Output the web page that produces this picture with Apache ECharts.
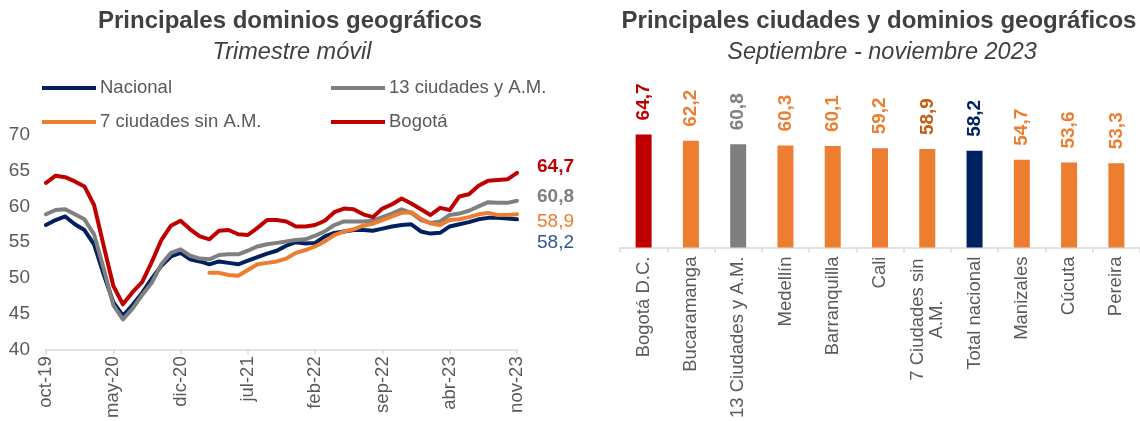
<!DOCTYPE html>
<html>
<head>
<meta charset="utf-8">
<script src="https://cdn.jsdelivr.net/npm/echarts@6/dist/echarts.min.js"></script>
<style>
html,body{margin:0;padding:0;background:#fff;}
#chart{width:1140px;height:421px;}
</style>
</head>
<body>
<div id="chart"></div>
<script>
// ---- Data ----
const months = ['oct-19','nov-19','dic-19','ene-20','feb-20','mar-20','abr-20','may-20','jun-20','jul-20','ago-20','sep-20','oct-20','nov-20','dic-20','ene-21','feb-21','mar-21','abr-21','may-21','jun-21','jul-21','ago-21','sep-21','oct-21','nov-21','dic-21','ene-22','feb-22','mar-22','abr-22','may-22','jun-22','jul-22','ago-22','sep-22','oct-22','nov-22','dic-22','ene-23','feb-23','mar-23','abr-23','may-23','jun-23','jul-23','ago-23','sep-23','oct-23','nov-23'];
const nacional = [57.4,58.1,58.6,57.5,56.7,54.7,50.5,46.6,44.7,46.2,47.9,49.9,51.7,53.0,53.5,52.6,52.3,51.9,52.3,52.1,51.9,52.4,52.9,53.4,53.8,54.5,55.0,54.8,54.9,55.8,56.3,56.5,56.7,56.7,56.6,56.9,57.2,57.4,57.5,56.5,56.2,56.3,57.2,57.5,57.8,58.2,58.4,58.4,58.3,58.2];
const ciudades13 = [58.9,59.5,59.6,58.9,58.2,56.1,51.3,46.2,44.2,45.7,47.6,49.3,51.9,53.5,54.0,53.1,52.7,52.6,53.2,53.3,53.3,53.8,54.4,54.7,54.9,55.1,55.3,55.4,55.9,56.5,57.4,57.9,57.9,57.9,58.0,58.5,59.0,59.6,59.1,58.1,57.7,57.9,58.8,59.0,59.4,60.0,60.6,60.5,60.5,60.8];
const ciudades7 = [null,null,null,null,null,null,null,null,null,null,null,null,null,null,null,null,null,50.7,50.7,50.4,50.3,51.1,51.9,52.1,52.3,52.7,53.5,53.9,54.4,55.1,56.0,56.5,56.8,57.3,57.6,58.1,58.6,59.1,59.2,58.3,57.6,57.4,58.1,58.2,58.5,58.9,59.1,58.8,58.8,58.9];
const bogota = [63.3,64.3,64.1,63.5,62.8,60.2,54.5,48.9,46.3,48.0,49.4,52.2,55.3,57.3,58.0,56.8,55.8,55.4,56.6,56.7,56.1,56.0,57.0,58.1,58.1,57.9,57.2,57.2,57.4,58.0,59.2,59.7,59.6,58.9,58.5,59.7,60.3,61.1,60.4,59.6,58.8,59.8,59.5,61.4,61.7,62.9,63.6,63.7,63.8,64.7];
const lineNames = ['Nacional','13 ciudades y A.M.','7 ciudades sin A.M.','Bogotá'];

const barCategories = ['Bogotá D.C.','Bucaramanga','13 Ciudades y A.M.','Medellín','Barranquilla','Cali','7 Ciudades sin\nA.M.','Total nacional','Manizales','Cúcuta','Pereira'];
const barValues = [64.7,62.2,60.8,60.3,60.1,59.2,58.9,58.2,54.7,53.6,53.3];

// ---- Styles ----
const FONT = '"Liberation Sans", Arial, sans-serif';
const TXT = '#595959';
const lineColors = ['#002060','#7F7F7F','#ED7D31','#C00000'];
const endLabelColors = ['#2F5597','#7F7F7F','#ED7D31','#C00000'];
const endLabelBold = [false,true,false,true];
const endLabelDy = [23,-4,7,-6];
const barColors = ['#C00000','#ED7D31','#7F7F7F','#ED7D31','#ED7D31','#ED7D31','#ED7D31','#002060','#ED7D31','#ED7D31','#ED7D31'];
const barLabelColors = ['#C00000','#ED7D31','#7F7F7F','#ED7D31','#ED7D31','#ED7D31','#C55A11','#002060','#ED7D31','#ED7D31','#ED7D31'];
const fmt = v => v.toFixed(1).replace('.', ',');

const chart = echarts.init(document.getElementById('chart'), null, {renderer:'canvas'});

const lineData = [nacional, ciudades13, ciudades7, bogota];
const lineSeries = lineData.map((d, k) => ({
  name: lineNames[k], type: 'line', xAxisIndex: 0, yAxisIndex: 0,
  data: d, showSymbol: false, symbol: 'none', connectNulls: false,
  lineStyle: {color: lineColors[k], width: 4, cap: 'round', join: 'round'},
  itemStyle: {color: lineColors[k]},
  endLabel: {
    show: true, distance: 20, offset: [0, endLabelDy[k]],
    formatter: p => fmt(p.value),
    color: endLabelColors[k], fontSize: 19, fontFamily: FONT,
    fontWeight: endLabelBold[k] ? 'bold' : 'normal'
  },
  emphasis: {disabled: true}, z: 2 + k
}));

const barCatData = barCategories.map((c, i) => {
  if (c.indexOf('\n') >= 0) {
    return {value: c, textStyle: {align: 'center', padding: [0, 126, 0, 0]}};
  }
  return c;
});

const option = {
  animation: false,
  textStyle: {fontFamily: FONT},
  title: [
    {text: 'Principales dominios geográficos', left: 290, top: 9, textAlign: 'center', padding: 0,
     textStyle: {fontSize: 24, fontWeight: 'bold', color: '#404040', fontFamily: FONT, lineHeight: 24}},
    {text: 'Trimestre móvil', left: 292, top: 40, textAlign: 'center', padding: 0,
     textStyle: {fontSize: 23.5, fontWeight: 'normal', fontStyle: 'italic', color: '#404040', fontFamily: FONT, lineHeight: 24}},
    {text: 'Principales ciudades y dominios geográficos', left: 879, top: 9, textAlign: 'center', padding: 0,
     textStyle: {fontSize: 24, fontWeight: 'bold', color: '#404040', fontFamily: FONT, lineHeight: 24}},
    {text: 'Septiembre - noviembre 2023', left: 882, top: 40, textAlign: 'center', padding: 0,
     textStyle: {fontSize: 23.5, fontWeight: 'normal', fontStyle: 'italic', color: '#404040', fontFamily: FONT, lineHeight: 24}}
  ],
  legend: [
    {data: [lineNames[0], lineNames[2]], orient: 'vertical', left: 42, top: 77, padding: 0,
     itemWidth: 54, itemHeight: 4, itemGap: 12, icon: 'rect', selectedMode: false,
     textStyle: {fontSize: 18.5, color: TXT, fontFamily: FONT, lineHeight: 22, padding: [0,0,0,-1]}},
    {data: [lineNames[1], lineNames[3]], orient: 'vertical', left: 331, top: 77, padding: 0,
     itemWidth: 54, itemHeight: 4, itemGap: 12, icon: 'rect', selectedMode: false,
     textStyle: {fontSize: 18.5, color: TXT, fontFamily: FONT, lineHeight: 22, padding: [0,0,0,-1]}}
  ],
  grid: [
    {left: 46, top: 135, width: 471, bottom: 69},
    {left: 620, top: 121, width: 523, bottom: 172}
  ],
  xAxis: [
    {type: 'category', gridIndex: 0, data: months, boundaryGap: false,
     axisLine: {lineStyle: {color: '#D9D9D9', width: 1.5}},
     axisTick: {show: true, interval: 6, length: 5, lineStyle: {color: '#D9D9D9', width: 1.5}},
     axisLabel: {interval: 6, rotate: 90, margin: 7, fontSize: 18.5, color: TXT, fontFamily: FONT},
     splitLine: {show: false}},
    {type: 'category', gridIndex: 1, data: barCatData,
     axisLine: {lineStyle: {color: '#D9D9D9', width: 1.5}},
     axisTick: {show: true, length: 5, lineStyle: {color: '#D9D9D9', width: 1.5}},
     axisLabel: {interval: 0, rotate: 90, margin: 9, fontSize: 18.5, color: TXT, fontFamily: FONT, lineHeight: 19},
     splitLine: {show: false}}
  ],
  yAxis: [
    {type: 'value', gridIndex: 0, min: 40, max: 70, interval: 5,
     axisLine: {show: false}, axisTick: {show: false}, splitLine: {show: false},
     axisLabel: {margin: 16, fontSize: 19, color: TXT, fontFamily: FONT}},
    {type: 'value', gridIndex: 1, min: 20, max: 70, show: false, splitLine: {show: false}}
  ],
  series: lineSeries.concat([{
    type: 'bar', xAxisIndex: 1, yAxisIndex: 1, barWidth: 16,
    data: barValues.map((v, i) => ({
      value: v,
      itemStyle: {color: barColors[i]},
      label: {color: barLabelColors[i]}
    })),
    label: {show: true, position: 'top', rotate: 90, align: 'left', verticalAlign: 'middle',
      distance: 14, fontSize: 19, fontWeight: 'bold', fontFamily: FONT,
      formatter: p => fmt(p.value)},
    emphasis: {disabled: true}
  }])
};
chart.setOption(option);
</script>
</body>
</html>
